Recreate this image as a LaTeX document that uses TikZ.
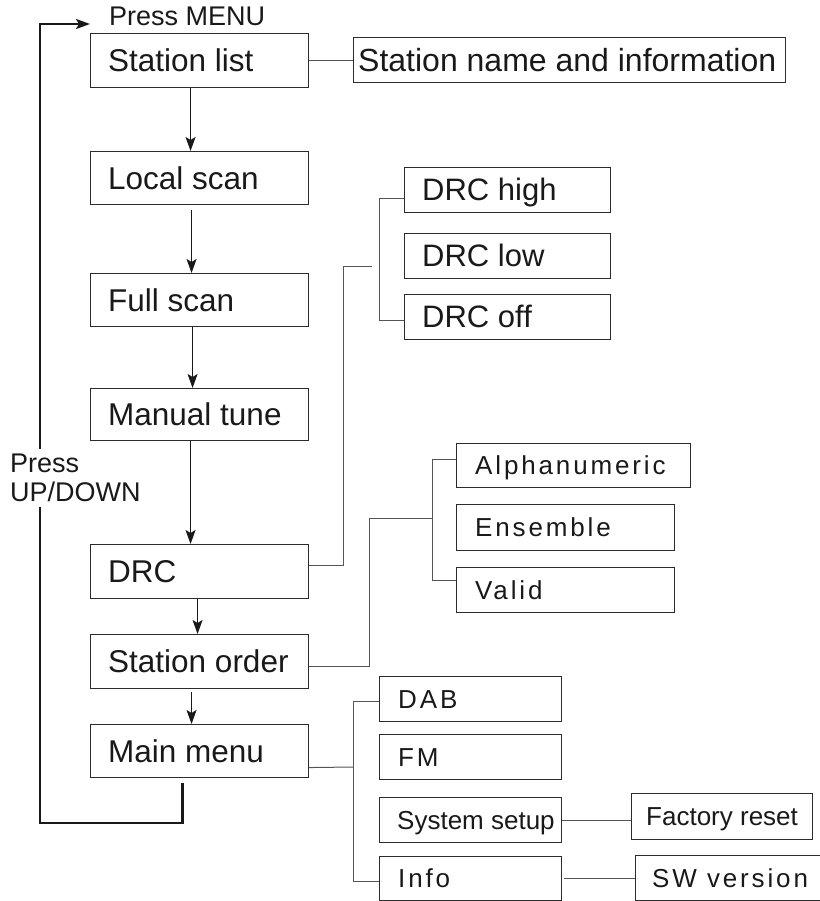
\documentclass[tikz,border=0pt]{standalone}
\usepackage{fontspec}
\setmainfont{Liberation Sans}
\usetikzlibrary{arrows.meta}
\definecolor{boxc}{HTML}{2B2B2B}
\definecolor{conc}{HTML}{555555}
\hyphenpenalty=10000
\exhyphenpenalty=10000
\newcommand\fmain{\fontsize{31.5pt}{36pt}\selectfont}
\newcommand\fname{\fontsize{32pt}{36pt}\selectfont}
\newcommand\fsub{\fontsize{31pt}{36pt}\selectfont}
\newcommand\fsmall{\fontsize{26pt}{30pt}\selectfont}
\newcommand\fwide{\fontsize{26pt}{30pt}\selectfont\addfontfeature{LetterSpace=11}}
\newcommand\fnote{\fontsize{27pt}{29pt}\selectfont}
\begin{document}
\begin{tikzpicture}[x=1pt,y=-1pt,
  menubox/.style 2 args={draw=boxc, line width=1.1pt, rectangle, anchor=north west,
    inner sep=0pt, minimum width=#1pt, minimum height=#2pt},
  boxtext/.style={anchor=west, inner sep=0pt, xshift=#1pt, text depth=0pt, text=black!90},
  tmain/.style={font=\fmain, text height=22pt},
  tname/.style={font=\fname, text height=22.4pt},
  tsub/.style={font=\fsub, text height=21.8pt},
  tsmall/.style={font=\fsmall, text height=18.3pt},
  twide/.style={font=\fwide, text height=18.3pt},
  conn/.style={draw=conc, line width=1pt},
  flow/.style={draw=black!90, line width=1.3pt, -{Stealth[length=14pt,width=10pt,inset=3pt]}},
  loopline/.style={draw=black!90, line width=2.3pt},
  note/.style={font=\fnote, inner sep=0pt, text=black!90}]
\useasboundingbox (0,0) rectangle (819,901);

% main column
\node[menubox={218}{54}, label={[boxtext=18,tmain]west:Station list}] (sl) at (90,33) {};
\node[menubox={218}{53}, label={[boxtext=18,tmain]west:Local scan}] (ls) at (90,151) {};
\node[menubox={218}{53}, label={[boxtext=18,tmain]west:Full scan}] (fs) at (90,273) {};
\node[menubox={218}{52}, label={[boxtext=18,tmain]west:Manual tune}] (mt) at (90,388) {};
\node[menubox={218}{54}, label={[boxtext=18,tmain]west:DRC}] (drc) at (90,544) {};
\node[menubox={218}{54}, label={[boxtext=18,tmain]west:Station order}] (so) at (90,634) {};
\node[menubox={218}{53}, label={[boxtext=18,tmain]west:Main menu}] (mm) at (90,724) {};

% sub menus
\node[menubox={432}{45}, label={[boxtext=5,tname]west:Station name and information}] (sni) at (353,37) {};
\node[menubox={206}{45}, label={[boxtext=18,tsub]west:DRC high}] (dh) at (404,167) {};
\node[menubox={206}{45}, label={[boxtext=18,tsub]west:DRC low}] (dl) at (404,233) {};
\node[menubox={206}{45}, label={[boxtext=18,tsub]west:DRC off}] (doff) at (404,294) {};
\node[menubox={234}{44}, label={[boxtext=19,twide]west:Alphanumeric}] (an) at (456,443) {};
\node[menubox={218}{46}, label={[boxtext=19,twide]west:Ensemble}] (en) at (456,504) {};
\node[menubox={218}{45}, label={[boxtext=19,twide]west:Valid}] (va) at (456,567) {};
\node[menubox={182}{45}, label={[boxtext=19,twide]west:DAB}] (dab) at (379,676) {};
\node[menubox={182}{45}, label={[boxtext=19,twide]west:FM}] (fm) at (379,734) {};
\node[menubox={182}{45}, label={[boxtext=18,tsmall]west:System setup}] (ss) at (379,797) {};
\node[menubox={182}{44}, label={[boxtext=19,twide]west:Info}] (info) at (379,856) {};
\node[menubox={181}{46}, label={[boxtext=15,tsmall]west:Factory reset}] (fr) at (631,793) {};
\node[menubox={190}{45}, label={[boxtext=17,twide]west:SW version}] (sw) at (635,855) {};

% flow arrows
\draw[flow] ([xshift=-9pt]sl.south) -- ([xshift=-9pt]ls.north);
\draw[flow] ([xshift=-8pt,yshift=-5pt]ls.south) -- ([xshift=-8pt]fs.north);
\draw[flow] ([xshift=-7pt]fs.south) -- ([xshift=-7pt]mt.north);
\draw[flow] ([xshift=-9pt]mt.south) -- ([xshift=-9pt]drc.north);
\draw[flow] ([xshift=-2pt]drc.south) -- ([xshift=-2pt]so.north);
\draw[flow] ([xshift=-8pt,yshift=-3pt]so.south) -- ([xshift=-8pt]mm.north);

% loop back
\node[note, anchor=base west] (pm) at (109,26) {Press MENU};
\node[note, align=left, anchor=west, inner ysep=5pt] (pud) at (10,478) {Press\\UP/DOWN};
\coordinate (lb) at (40,823);
\coordinate (lt) at (40,24);
\draw[loopline] ([xshift=-17pt,yshift=-5pt]mm.south) |- (lb) -- (pud.south -| lb);
\draw[loopline, -{Stealth[length=14pt,width=10pt,inset=3pt]}] (pud.north -| lb) -- (lt) -- ([yshift=9pt]sl.north west);

% sub-menu connectors
\draw[conn] (sl.east) -- (sl.east -| sni.west);
\coordinate (drcend) at (372,266);
\draw[conn] ([yshift=6pt]drc.east) -| ([xshift=-29pt]drcend) -- (drcend);
\draw[conn] ([yshift=-8.5pt]dh.west) -- ++(-25,0) |- ([yshift=-3.5pt]doff.west);
\coordinate (soj) at (432,518);
\draw[conn] ([yshift=-5pt]so.east) -| ([xshift=-63pt]soj) -- (soj);
\draw[conn] ([yshift=6pt]an.west) -- ++(-24,0) |- ([yshift=9.5pt]va.west);
\coordinate (mmj) at (353,767);
\draw[conn] ([yshift=-16.5pt]mm.east) -- (mmj);
\draw[conn] ([yshift=-2.5pt]dab.west) -- ++(-26,0) |- ([yshift=-3pt]info.west);
\draw[conn] (ss.east) -- (ss.east -| fr.west);
\draw[conn] ([xshift=2pt]info.east) -- (info.east -| sw.west);
\end{tikzpicture}
\end{document}
